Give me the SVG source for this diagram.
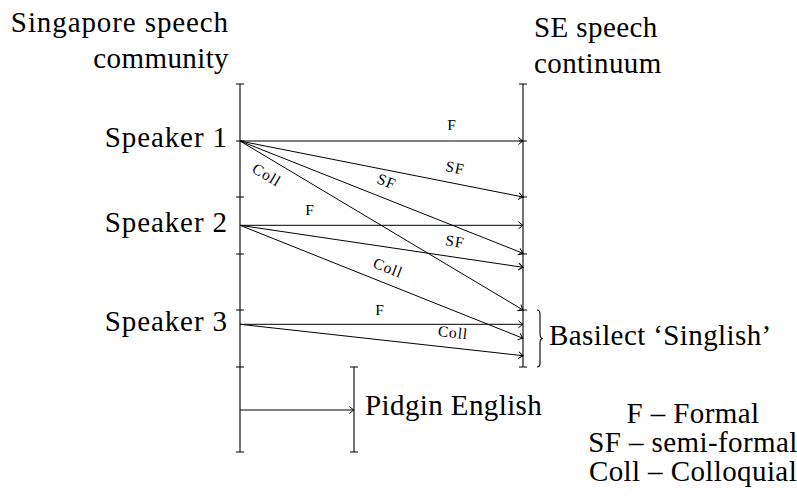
<svg xmlns="http://www.w3.org/2000/svg" width="797" height="497" viewBox="0 0 797 497">
<style>
.big{font-family:'Liberation Serif','DejaVu Serif',serif;font-size:29px;fill:#000;letter-spacing:0.4px}
.wide{letter-spacing:0.9px}
.lbl{font-family:'Liberation Serif','DejaVu Serif',serif;font-size:15.5px;fill:#000;letter-spacing:0.9px;text-anchor:middle}
.ax{stroke:#000;stroke-width:1.1;fill:none}
.ar{stroke:#000;stroke-width:1;fill:none;marker-end:url(#arr)}
</style>
<defs>
<marker id="arr" markerUnits="userSpaceOnUse" markerWidth="10" markerHeight="10" refX="0" refY="0" viewBox="-6 -5 8 10" orient="auto" overflow="visible">
<path d="M-4.5,-3.5 Q-1.5,-0.8 0,0 Q-1.5,0.8 -4.5,3.5" fill="none" stroke="#000" stroke-width="1"/>
</marker>
</defs>
<g id="title-left">
<text class="big wide" x="229" y="32" text-anchor="end">Singapore speech</text>
<text class="big" x="229" y="68" text-anchor="end">community</text>
</g>
<g id="title-right">
<text class="big" x="534" y="37">SE speech</text>
<text class="big" x="534" y="73">continuum</text>
</g>
<g id="axis-community">
<path class="ax" d="M240,84 V452 M236,84 H244 M236,141 H244 M236,197 H244 M236,254 H244 M236,310 H244 M236,367 H244 M236,452 H244"/>
</g>
<g id="axis-continuum">
<path class="ax" d="M523,84 V367 M519,84 H527 M519,141 H527 M519,197 H527 M519,254 H527 M519,310 H527 M519,367 H527"/>
</g>
<g id="axis-pidgin">
<path class="ax" d="M354,367 V452 M350,367 H358 M350,452 H358"/>
</g>
<g id="speaker1"><text class="big wide" x="228" y="147" text-anchor="end">Speaker 1</text></g>
<g id="speaker2"><text class="big wide" x="228" y="232" text-anchor="end">Speaker 2</text></g>
<g id="speaker3"><text class="big wide" x="228" y="331" text-anchor="end">Speaker 3</text></g>
<g id="pidgin"><text class="big" x="365" y="415">Pidgin English</text></g>
<g id="basilect">
<path class="ax" d="M537,310 Q540,310 540,314 L540,334 Q540,338.5 543,338.5 Q540,338.5 540,343 L540,363 Q540,367 537,367"/>
<text class="big" x="549" y="345">Basilect ‘Singlish’</text>
</g>
<g id="legend">
<text class="big" x="693" y="423" text-anchor="middle">F – Formal</text>
<text class="big" x="693" y="452" text-anchor="middle">SF – semi-formal</text>
<text class="big" x="693" y="481" text-anchor="middle">Coll – Colloquial</text>
</g>
<g id="connectors">
<line class="ar" x1="240" y1="141" x2="523" y2="141"/>
<line class="ar" x1="240" y1="141" x2="523" y2="197"/>
<line class="ar" x1="240" y1="141" x2="523" y2="253.3"/>
<line class="ar" x1="240" y1="141" x2="523" y2="310"/>
<line class="ar" x1="240" y1="225.3" x2="523" y2="225.3"/>
<line class="ar" x1="240" y1="225.3" x2="523" y2="267.3"/>
<line class="ar" x1="240" y1="225.3" x2="523" y2="338.3"/>
<line class="ar" x1="240" y1="324.3" x2="523" y2="324.3"/>
<line class="ar" x1="240" y1="324.3" x2="523" y2="355.7"/>
<line class="ar" x1="240" y1="410" x2="354" y2="410"/>
</g>
<g id="connector-labels">
<text class="lbl" transform="translate(452,125)" y="5">F</text>
<text class="lbl" transform="translate(455,168) rotate(11.2)" y="5">SF</text>
<text class="lbl" transform="translate(386.7,181.7) rotate(21.6)" y="5">SF</text>
<text class="lbl" transform="translate(266.7,175) rotate(30.8)" y="5">Coll</text>
<text class="lbl" transform="translate(310,210)" y="5">F</text>
<text class="lbl" transform="translate(455,241.7) rotate(8.4)" y="5">SF</text>
<text class="lbl" transform="translate(388,268) rotate(21.7)" y="5">Coll</text>
<text class="lbl" transform="translate(380,310)" y="5">F</text>
<text class="lbl" transform="translate(453,332.7) rotate(6.4)" y="5">Coll</text>
</g>
</svg>
